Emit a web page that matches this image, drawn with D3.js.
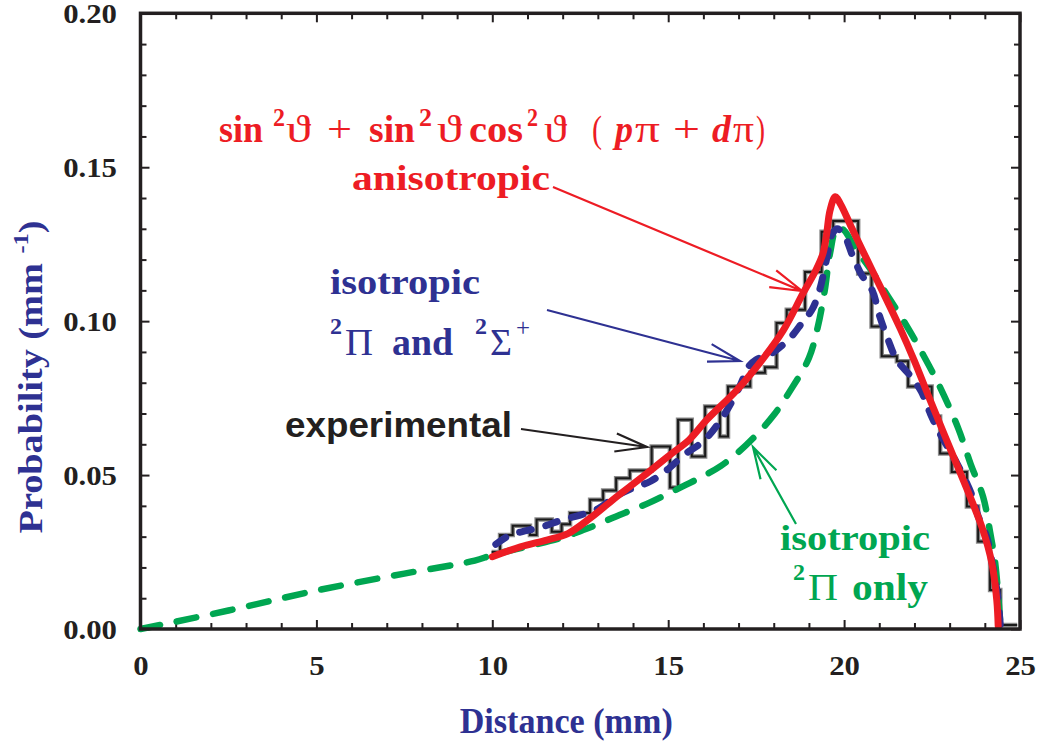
<!DOCTYPE html>
<html>
<head>
<meta charset="utf-8">
<script src="https://cdn.jsdelivr.net/npm/d3@7"></script>
<style>
  body { margin: 0; background: #fff; }
  svg { display: block; }
</style>
</head>
<body>
<svg width="1037" height="742"></svg>
<script>
// ---- data ----
const xTickValues = [0, 5, 10, 15, 20, 25];
const yTickValues = [0.00, 0.05, 0.10, 0.15, 0.20];

// experimental histogram: bin edges (mm) and bin heights (mm^-1)
const histEdges = [9.98, 10.22, 10.58, 11.07, 11.26, 11.69, 11.97, 12.21, 12.78, 13.15,
  13.52, 13.91, 14.53, 15.05, 15.28, 15.67, 16.05, 16.47, 16.70, 17.33,
  17.75, 18.08, 18.37, 18.89, 19.36, 19.69, 20.40, 20.78, 21.07, 21.50,
  21.82, 22.49, 22.73, 23.06, 23.49, 23.81, 24.15, 24.44, 24.92];
const histValues = [0.0250, 0.0305, 0.0335, 0.0305, 0.0356, 0.0316, 0.0340, 0.0377, 0.0420,
  0.0450, 0.0490, 0.0515, 0.0593, 0.0460, 0.0680, 0.0560, 0.0723, 0.0625, 0.0788,
  0.0832, 0.0850, 0.0994, 0.1037, 0.1160, 0.1290, 0.1325, 0.1155, 0.0983, 0.0886,
  0.0870, 0.0788, 0.0690, 0.0570, 0.0510, 0.0398, 0.0284, 0.0127, 0.0013];

// isotropic, 2Pi only (green dashed)
const isoPiOnly = [[0, 0], [2.5, 0.006], [5, 0.0125], [7.5, 0.018], [9.5, 0.0222], [10, 0.024],
  [11, 0.0268], [12, 0.0297], [12.5, 0.0318], [13, 0.034], [13.5, 0.0365], [14, 0.0388],
  [14.5, 0.0412], [15, 0.044], [15.5, 0.0468], [16, 0.0497], [16.5, 0.053], [17, 0.0575],
  [17.5, 0.063], [18, 0.0695], [18.5, 0.078], [19, 0.088], [19.25, 0.098], [19.45, 0.110],
  [19.6, 0.122], [19.8, 0.1305], [20, 0.1295], [20.3, 0.124], [20.8, 0.116], [21.25, 0.108],
  [21.75, 0.099], [22.25, 0.089], [22.75, 0.078], [23.25, 0.065], [23.6, 0.0535],
  [23.95, 0.043], [24.15, 0.0315], [24.3, 0.021], [24.4, 0.008], [24.45, 0]];

// isotropic, 2Pi and 2Sigma+ (blue dashed)
const isoPiSigma = [[10.1, 0.0275], [10.5, 0.0305], [11, 0.032], [11.5, 0.0335], [12, 0.0355],
  [12.5, 0.037], [13, 0.039], [13.5, 0.043], [14, 0.0458], [14.5, 0.048], [15, 0.052],
  [15.5, 0.057], [16, 0.061], [16.5, 0.068], [17, 0.078], [17.3, 0.0855], [17.5, 0.0875],
  [18, 0.090], [18.5, 0.095], [18.8, 0.0994], [19.1, 0.104], [19.3, 0.110], [19.5, 0.120],
  [19.65, 0.128], [19.8, 0.130], [20.0, 0.128], [20.25, 0.121], [20.5, 0.115], [20.8, 0.110],
  [21.0, 0.102], [21.25, 0.094], [21.5, 0.0874], [21.9, 0.082], [22.2, 0.077], [22.45, 0.070],
  [22.7, 0.064], [23.0, 0.058], [23.2, 0.054], [23.65, 0.043], [23.8, 0.037], [24.05, 0.030],
  [24.2, 0.022], [24.35, 0.012], [24.45, 0]];

// anisotropic (red solid)
const anisotropic = [[10.0, 0.0235], [10.8, 0.0267], [11.55, 0.0289], [12.15, 0.031],
  [12.78, 0.036], [13.43, 0.042], [14.28, 0.0495], [15.1, 0.057], [15.6, 0.0615],
  [16.1, 0.068], [16.95, 0.0776], [17.6, 0.0864], [18.27, 0.097], [18.83, 0.109],
  [19.2, 0.1166], [19.4, 0.122], [19.5, 0.128], [19.6, 0.136], [19.75, 0.1404],
  [19.9, 0.138], [20.2, 0.1307], [20.65, 0.120], [21.1, 0.1095], [21.6, 0.0975],
  [22.0, 0.087], [22.44, 0.0745], [23.0, 0.059], [23.58, 0.043], [23.95, 0.032],
  [24.2, 0.0214], [24.34, 0.0094], [24.38, 0.001]];

// ---- setup ----
const svg = d3.select('svg');
const red = '#ed1c24', blue = '#2e3192', green = '#00a651', ink = '#231f20';
const serif = '"Liberation Serif", "Times New Roman", serif';
const sans = '"Liberation Sans", Arial, sans-serif';

const plotL = 140.5, plotR = 1020, plotT = 13.3, plotB = 629;
const x = d3.scaleLinear().domain([0, 25]).range([plotL, plotR]);
const y = d3.scaleLinear().domain([0, 0.2]).range([plotB, plotT]);

// stretch text horizontally a bit, the original font runs wider
const widen = (sel, k) => sel.each(function () {
  this.setAttribute('textLength', this.getComputedTextLength() * k);
  this.setAttribute('lengthAdjust', 'spacingAndGlyphs');
});

// ---- axes (ticks inside on all four sides) ----
const minorX = d3.range(0, 26, 1);
const minorY = d3.range(0, 21).map(d => d / 100);
const isMajorY = d => yTickValues.some(v => Math.abs(v - d) < 1e-9);

function styleTicks(g) {
  g.select('.domain').remove();
  g.selectAll('line').attr('stroke', ink).attr('stroke-width', 2);
}

svg.append('g').attr('transform', `translate(0,${plotB})`)
  .call(d3.axisBottom(x).tickValues(minorX).tickSize(-6)
    .tickFormat(d => xTickValues.includes(d) ? d : ''))
  .call(styleTicks)
  .call(g => g.selectAll('.tick').filter(d => xTickValues.includes(d)).select('line').attr('y2', -9))
  .call(g => g.selectAll('text').attr('y', 46).attr('dy', 0)
    .attr('font-family', serif).attr('font-weight', 'bold').attr('font-size', 27).attr('fill', ink));

svg.append('g').attr('transform', `translate(0,${plotT})`)
  .call(d3.axisTop(x).tickValues(minorX).tickSize(-6).tickFormat(''))
  .call(styleTicks)
  .call(g => g.selectAll('.tick').filter(d => xTickValues.includes(d)).select('line').attr('y2', 9));

svg.append('g').attr('transform', `translate(${plotL},0)`)
  .call(d3.axisLeft(y).tickValues(minorY).tickSize(-6)
    .tickFormat(d => isMajorY(d) ? d3.format('.2f')(d) : ''))
  .call(styleTicks)
  .call(g => g.selectAll('.tick').filter(isMajorY).select('line').attr('x2', 9))
  .call(g => g.selectAll('text').attr('x', -23.5).attr('dy', '0.35em')
    .attr('font-family', serif).attr('font-weight', 'bold').attr('font-size', 27).attr('fill', ink));

svg.append('g').attr('transform', `translate(${plotR},0)`)
  .call(d3.axisRight(y).tickValues(minorY).tickSize(-6).tickFormat(''))
  .call(styleTicks)
  .call(g => g.selectAll('.tick').filter(isMajorY).select('line').attr('x2', -9));

svg.selectAll('.tick text').filter(function () { return this.textContent !== ''; }).call(widen, 1.14);

// ---- data marks ----
const plot = svg.append('g');

const histPts = histValues.map((v, i) => [histEdges[i], v]);
histPts.push([histEdges[histEdges.length - 1], histValues[histValues.length - 1]]);
const step = d3.line().x(d => x(d[0])).y(d => y(d[1])).curve(d3.curveStepAfter);

plot.append('path').attr('d', step(histPts))
  .attr('fill', 'none').attr('stroke', '#8a8a8a').attr('stroke-width', 4.5);
plot.append('path').attr('d', step(histPts))
  .attr('fill', 'none').attr('stroke', '#1a1a1a').attr('stroke-width', 2);

const smooth = d3.line().x(d => x(d[0])).y(d => y(d[1])).curve(d3.curveCatmullRom.alpha(0.5));

plot.append('path').attr('d', smooth(isoPiOnly))
  .attr('fill', 'none').attr('stroke', green).attr('stroke-width', 6.5)
  .attr('stroke-dasharray', '20,17').attr('stroke-linecap', 'round');

plot.append('path').attr('d', smooth(isoPiSigma))
  .attr('fill', 'none').attr('stroke', blue).attr('stroke-width', 7)
  .attr('stroke-dasharray', '12,15').attr('stroke-linecap', 'round');

plot.append('path').attr('d', smooth(anisotropic))
  .attr('fill', 'none').attr('stroke', red).attr('stroke-width', 7)
  .attr('stroke-linecap', 'round').attr('stroke-linejoin', 'round');

// frame
svg.append('rect').attr('x', plotL).attr('y', plotT)
  .attr('width', plotR - plotL).attr('height', plotB - plotT)
  .attr('fill', 'none').attr('stroke', ink).attr('stroke-width', 3.5);

// ---- axis titles ----
svg.append('text').attr('x', (plotL + plotR) / 2 - 14).attr('y', 733)
  .attr('text-anchor', 'middle').attr('font-family', serif).attr('font-weight', 'bold')
  .attr('font-size', 36).attr('fill', blue).text('Distance (mm)')
  .attr('textLength', 213).attr('lengthAdjust', 'spacingAndGlyphs');

const yTitle = svg.append('text').attr('transform', 'translate(42,377) rotate(-90)')
  .attr('text-anchor', 'middle').attr('font-family', serif).attr('font-weight', 'bold')
  .attr('font-size', 33).attr('fill', blue);
yTitle.append('tspan').text('Probability (mm ');
yTitle.append('tspan').attr('font-size', 21).attr('dy', -14).text('-1');
yTitle.append('tspan').attr('dy', 14).text(')');
yTitle.attr('textLength', 313).attr('lengthAdjust', 'spacingAndGlyphs');

// ---- annotations ----
const notes = svg.append('g');

// one text piece placed at x, stretched to width w
function piece(str, px, py, w, o) {
  const t = notes.append('text').attr('x', px).attr('y', py)
    .attr('font-family', o.family || serif).attr('font-size', o.size)
    .attr('font-weight', o.bold ? 'bold' : 'normal')
    .attr('font-style', o.italic ? 'italic' : 'normal')
    .attr('fill', o.fill).text(str);
  if (w) t.attr('textLength', w).attr('lengthAdjust', 'spacingAndGlyphs');
  return t;
}

function arrow(x1, y1, x2, y2, color) {
  const a = Math.atan2(y1 - y2, x1 - x2), L = 33, h = 16 * Math.PI / 180;
  const p = `M${x1},${y1}L${x2},${y2}` +
    `M${x2 + L * Math.cos(a + h)},${y2 + L * Math.sin(a + h)}L${x2},${y2}` +
    `L${x2 + L * Math.cos(a - h)},${y2 + L * Math.sin(a - h)}`;
  notes.append('path').attr('d', p).attr('fill', 'none')
    .attr('stroke', color).attr('stroke-width', 2.2);
}

// formula
const fb = 142;
const R = { size: 38, fill: red, bold: true };
const Rn = { size: 38, fill: red };
const Rs = { size: 25, fill: red, bold: true };
piece('sin', 219, fb, 44, R);
piece('2', 273, fb - 16, 12, Rs);
piece('ϑ', 286, fb, 25, Rn);
piece('+', 327, fb, 25, Rn);
piece('sin', 369, fb, 46, R);
piece('2', 419, fb - 16, 13, Rs);
piece('ϑ', 437, fb, 25, Rn);
piece('cos', 469, fb, 54, R);
piece('2', 527, fb - 16, 11, Rs);
piece('ϑ', 544, fb, 23, Rn);
piece('(', 592, fb, 10, Rn);
piece('p', 615, fb, 18, { size: 38, fill: red, bold: true, italic: true });
piece('π', 635, fb, 25, Rn);
piece('+', 673, fb, 27, Rn);
piece('d', 712, fb, 19, { size: 38, fill: red, bold: true, italic: true });
piece('π', 733, fb, 21, Rn);
piece(')', 756, fb, 9, Rn);

piece('anisotropic', 352, 190, 198, { size: 36, fill: red, bold: true });
arrow(553, 187, 802, 291, red);

piece('isotropic', 330, 294, 150, { size: 36, fill: blue, bold: true });
piece('2', 330, 334, 12, { size: 24, fill: blue, bold: true });
piece('Π', 345, 355, 28, { size: 38, fill: blue });
piece('and', 392, 355, 61, { size: 38, fill: blue, bold: true });
piece('2', 475, 334, 12, { size: 24, fill: blue, bold: true });
piece('Σ', 490, 355, 22, { size: 38, fill: blue });
piece('+', 516, 336, 14, { size: 26, fill: blue });
arrow(547, 310, 740, 361, blue);

piece('experimental', 285, 437, 227, { size: 35, fill: ink, bold: true, family: sans });
arrow(521, 429, 647, 447, ink);

piece('isotropic', 780, 550, 150, { size: 36, fill: green, bold: true });
piece('2', 793, 580, 12, { size: 24, fill: green, bold: true });
piece('Π', 808, 600, 30, { size: 38, fill: green });
piece('only', 852, 600, 76, { size: 38, fill: green, bold: true });
arrow(796, 524, 753, 447, green);
</script>
</body>
</html>
